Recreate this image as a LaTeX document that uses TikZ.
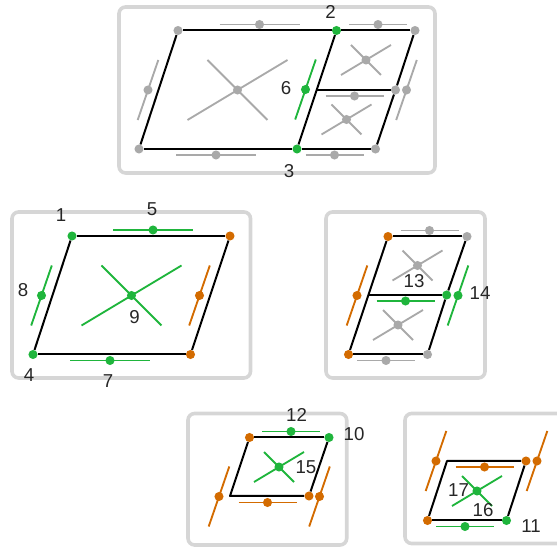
\documentclass[tikz,border=0pt]{standalone}
\usepackage{fontspec}
\setmainfont{Liberation Sans}
\definecolor{gn}{HTML}{1FB53C}
\definecolor{og}{HTML}{D36B00}
\definecolor{gy}{HTML}{A9A9A9}
\definecolor{fr}{HTML}{D6D6D6}
\begin{document}
\begin{tikzpicture}[x=0.75pt, y=-0.75pt, every node/.style={font=\fontsize{14}{16}\selectfont, text=black!85},
	v/.style={circle, fill, minimum size=6.8pt, inner sep=0pt},
	frame/.style={draw=fr, line width=2.7pt, rounded corners=5pt},
	edge/.style={black, line width=1.5pt, line join=round},
	hnd/.style={line width=1.4pt}]
	\clip (0,0) rectangle (557,548);
	% panels
	\draw[frame] (119,7) rectangle (435,173);
	\draw[frame] (12,212) rectangle (250.5,378);
	\draw[frame] (326,212) rectangle (485,378);
	\draw[frame] (188,413.5) rectangle (346.7,545);
	\draw[frame] (405,413.5) rectangle (575,543.5);
	% vertices
	\foreach \n/\x/\y/\c in {a1/178/30.5/gy, a2/336.5/30.5/gn, a3/415/30.5/gy, a4/139/149/gy, a5/297/149/gn, a6/375.5/149/gy, a7/395.5/90/gy,
		b1/72/236/gn, b2/230/236/og, b3/33/354.5/gn, b4/190.5/354.5/og,
		c1/388/236.5/og, c2/467/236.5/gy, c3/446.7/295/gn, c4/348.5/354.5/og, c5/427.5/354.5/gy,
		d1/249.5/437.5/og, d2/329/437.5/gn, d3/309/496/og,
		e1/526/461/og, e2/427.5/520.5/og, e3/506.5/520.5/gn}
		{\node[v, fill=\c] (\n) at (\x,\y) {};}
	\coordinate (a8) at (317,90);
	\coordinate (c6) at (369,295);
	\coordinate (d4) at (230,496);
	\coordinate (e4) at (447,461);
	% outlines
	\draw[edge] (a1) -- (a2);
	\draw[edge] (a2) -- (a3);
	\draw[edge] (a3) -- (a7);
	\draw[edge] (a7) -- (a6);
	\draw[edge] (a6) -- (a5);
	\draw[edge] (a5) -- (a4);
	\draw[edge] (a4) -- (a1);
	\draw[edge] (a2) -- (a5);
	\draw[edge] (a8) -- (a7);
	\draw[edge] (b1) -- (b2);
	\draw[edge] (b2) -- (b4);
	\draw[edge] (b4) -- (b3);
	\draw[edge] (b3) -- (b1);
	\draw[edge] (c1) -- (c2);
	\draw[edge] (c2) -- (c3);
	\draw[edge] (c3) -- (c5);
	\draw[edge] (c5) -- (c4);
	\draw[edge] (c4) -- (c1);
	\draw[edge] (c6) -- (c3);
	\draw[edge] (d1) -- (d2);
	\draw[edge] (d2) -- (d3);
	\draw[edge] (d3) -- (d4) -- (d1);
	\draw[edge] (e1) -- (e4) -- (e2);
	\draw[edge] (e2) -- (e3);
	\draw[edge] (e3) -- (e1);
	% flat handles
	\foreach \n/\x/\y/\w/\c in {f1/259.5/24.5/40/gy, f2/378/24.5/29/gy, f3/216/155/40/gy, f4/334.5/155/29/gy, f5/354.5/96/29/gy,
		f6/153/230/40/gn, f7/110/360.5/40/gn,
		f8/429.5/230.5/29/gy, f9/405.5/301/29/gn, f10/386/360.5/29/gy,
		f11/291/431.5/29/gn, f12/267.5/502.5/29/og,
		f13/484.5/467/29/og, f14/465/526.5/29/gn}
		{\node[v, fill=\c] (\n) at (\x,\y) {};
		\draw[\c, hnd] (\n) ++(-\w,0) -- ++(2*\w,0);}
	% slanted handles
	\foreach \n/\x/\y/\c in {s1/148/90/gy, s2/305.5/89.5/gn, s3/406.5/90/gy,
		s4/41.5/295.5/gn, s5/199.5/295.5/og,
		s6/357/295.5/og, s7/458/295.5/gn,
		s8/219/496.5/og, s9/319.5/496.5/og,
		s10/436/461/og, s11/537/461/og}
		{\node[v, fill=\c] (\n) at (\x,\y) {};
		\draw[\c, hnd] (\n) ++(10.3,-30) -- ++(-20.6,60);}
	% crosses
	\foreach \n/\x/\y/\s/\c in {x1/237.5/90/1/gy, x2/366/60/.5/gy, x3/346.5/119.5/.5/gy,
		x4/131.5/295.5/1/gn,
		x5/417.5/265.5/.5/gy, x6/398/325/.5/gy,
		x7/279/467/.5/gn, x8/477/491/.5/gn}
		{\node[v, fill=\c] (\n) at (\x,\y) {};
		\draw[\c, hnd] (\n) ++(-30*\s,-30*\s) -- ++(60*\s,60*\s);
		\draw[\c, hnd] (\n) ++(50*\s,-30*\s) -- ++(-100*\s,60*\s);}
	% numbers
	\foreach \t/\x/\y in {1/61/215, 2/330.5/12, 3/289/171, 4/29/375, 5/152/209, 6/286/88, 7/108/381, 8/23/290, 9/134.5/317,
		10/354/434, 11/531/526, 12/296.5/414.5, 13/414/281, 14/480/293, 15/306/467, 16/483/510, 17/458.5/490}
		{\node (n\t) at (\x,\y) {\t};}
\end{tikzpicture}
\end{document}
